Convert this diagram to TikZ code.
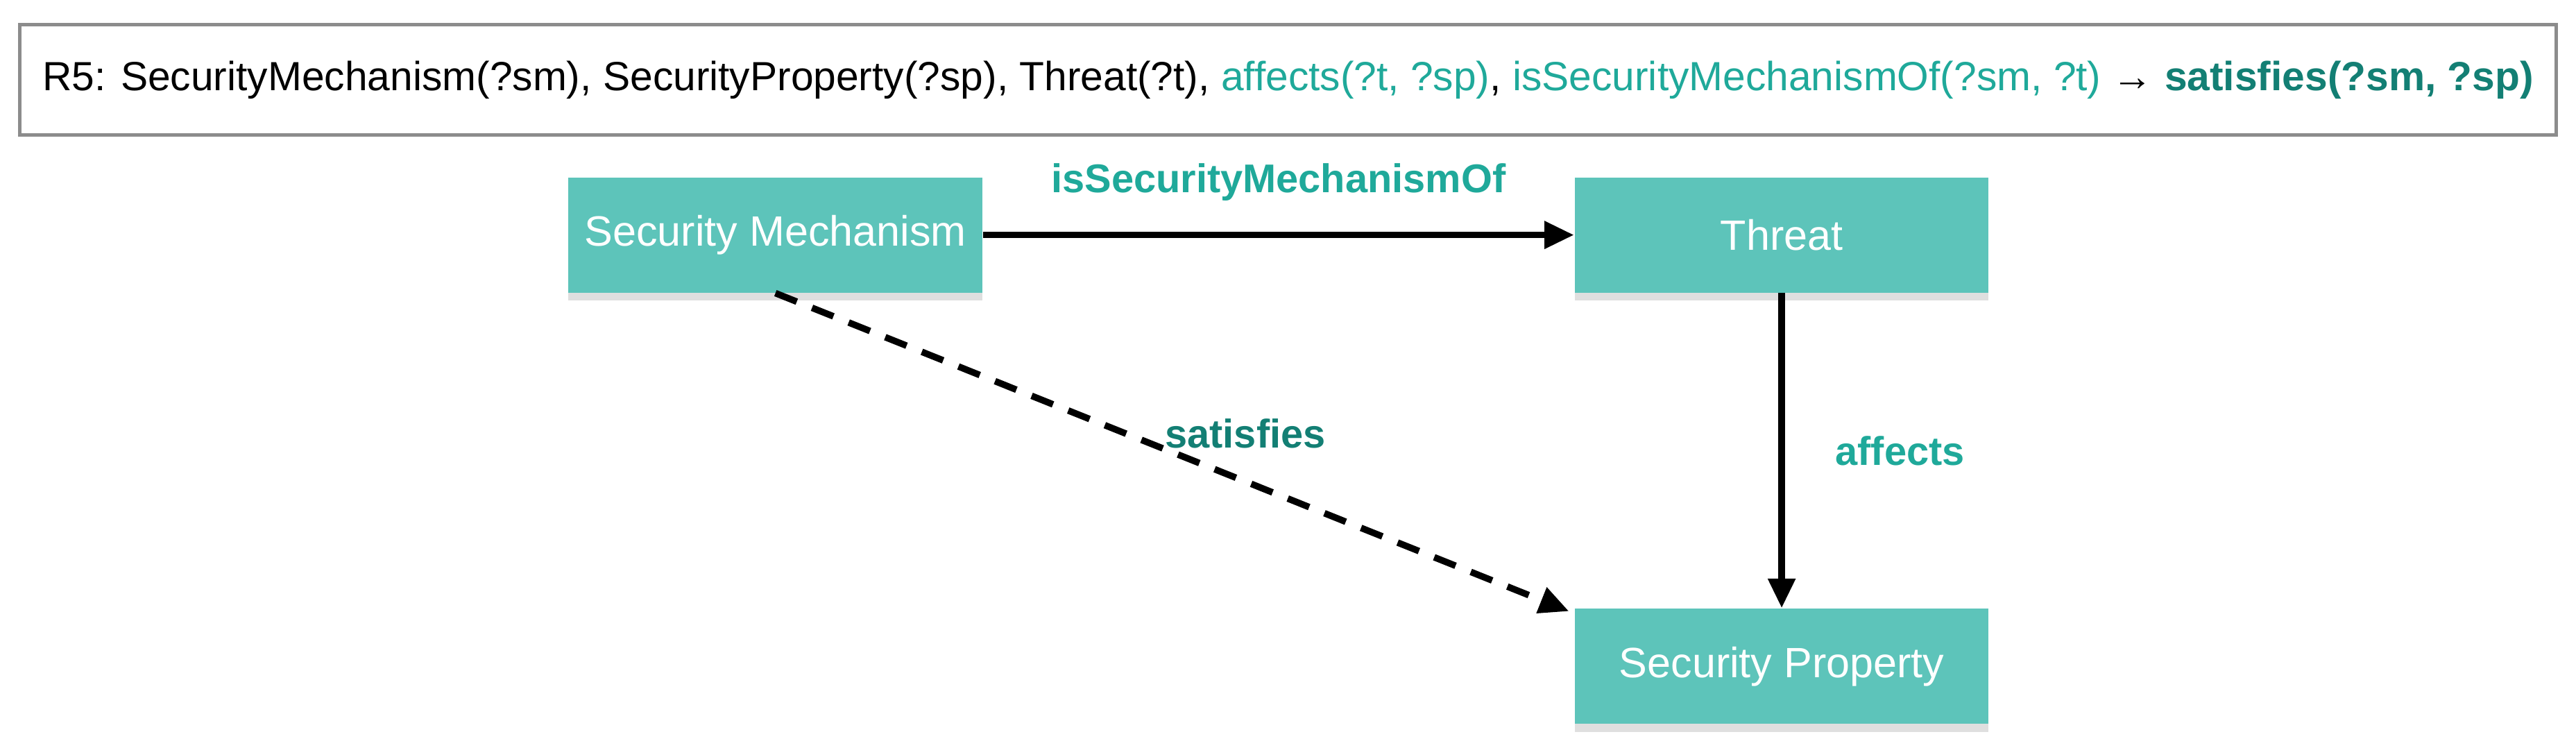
\documentclass[tikz,border=0pt]{standalone}
\usepackage{fontspec}
\setmainfont{Liberation Sans}
\usetikzlibrary{shadows,arrows.meta}
\definecolor{nodefill}{HTML}{5DC4BA}
\definecolor{lteal}{HTML}{1FA99A}
\definecolor{dteal}{HTML}{137F74}
\begin{document}
\begin{tikzpicture}[x=0.5pt,y=-0.5pt,
  box/.style={fill=nodefill,draw=none,minimum width=126pt,minimum height=35pt,text=white,font=\fontsize{12.9}{15}\selectfont,drop shadow={shadow xshift=0pt,shadow yshift=-2.5pt,opacity=0.25}},
  conn/.style={line width=2pt,-{Triangle[length=9pt,width=8pt]}},
  lab/.style={font=\bfseries\fontsize{12.2}{14}\selectfont}]
\useasboundingbox (0,0) rectangle (1568,455);
\node[draw=black!45,line width=1pt,minimum width=772pt,minimum height=33.5pt,inner sep=0pt] (rule) at (784,48.5)
 {\fontsize{12.4}{14}\selectfont R5: SecurityMechanism(?sm), SecurityProperty(?sp), Threat(?t), \textcolor{lteal}{affects(?t, ?sp)}, \textcolor{lteal}{isSecurityMechanismOf(?sm, ?t)} → \textcolor{dteal}{\bfseries satisfies(?sm, ?sp)}};
\node[box] (sm) at (472,143) {Security Mechanism};
\node[box] (t) at (1084.5,143) {Threat};
\node[box] (sp) at (1084.5,405.5) {Security Property};
\coordinate (dend) at (955,372);
\draw[conn] (sm) -- (t) node[midway,above=6pt,lab,text=lteal] {isSecurityMechanismOf};
\draw[conn] (t) -- (sp) node[midway,right=12pt,lab,text=lteal] {affects};
\draw[conn,dash pattern=on 7pt off 5pt] (sm.south) -- (dend);
\node[lab,text=dteal] (satl) at (758,264) {satisfies};
\end{tikzpicture}
\end{document}
